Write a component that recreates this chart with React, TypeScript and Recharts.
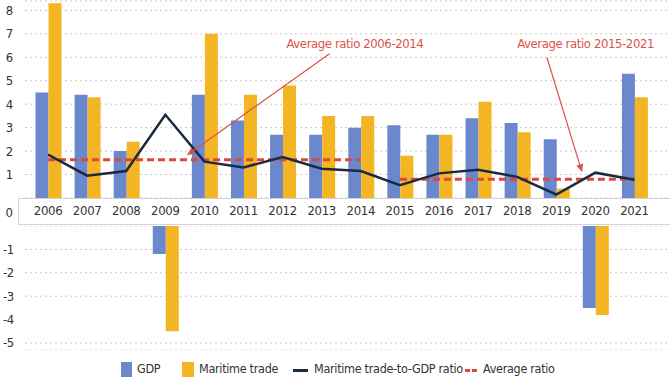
import { ComposedChart, Bar, Line, XAxis, YAxis, CartesianGrid, ReferenceLine, ReferenceDot } from "recharts";

const YEARS = ["2006", "2007", "2008", "2009", "2010", "2011", "2012", "2013", "2014", "2015", "2016", "2017", "2018", "2019", "2020", "2021"];
const GDP = [4.5, 4.4, 2.0, -1.2, 4.4, 3.3, 2.7, 2.7, 3.0, 3.1, 2.7, 3.4, 3.2, 2.5, -3.5, 5.3];
const MARITIME = [8.3, 4.3, 2.4, -4.5, 7.0, 4.4, 4.8, 3.5, 3.5, 1.8, 2.7, 4.1, 2.8, 0.4, -3.8, 4.3];
const RATIO = [1.85, 0.95, 1.15, 3.55, 1.55, 1.3, 1.75, 1.25, 1.15, 0.55, 1.05, 1.2, 0.9, 0.15, 1.08, 0.78];
const AVG_2006_2014 = 1.63;
const AVG_2015_2021 = 0.8;
const POS_TICKS = [1, 2, 3, 4, 5, 6, 7, 8];
const NEG_TICKS = [-1, -2, -3, -4, -5];

const FONT = '"DejaVu Sans Condensed", "Liberation Sans Narrow", sans-serif';
const BLUE = "#6b88cc";
const YELLOW = "#f4b524";
const NAVY = "#1b2a41";
const RED = "#e0463a";
const NOTE = "#d9534b";
const TEXT = "#333";

const rows = YEARS.map((year, i) => ({
  year,
  idx: i,
  gdpUp: GDP[i] > 0 ? GDP[i] : null,
  seaUp: MARITIME[i] > 0 ? MARITIME[i] : null,
  gdpDown: GDP[i] < 0 ? GDP[i] : null,
  seaDown: MARITIME[i] < 0 ? MARITIME[i] : null,
  ratio: RATIO[i],
  avgA: +year <= 2014 ? AVG_2006_2014 : null,
  avgB: +year >= 2015 ? AVG_2015_2021 : null,
}));

const PAD = { left: 3.5, right: 16 };

// thin red arrow with head at the second point
function Arrow(props: any) {
  const { x1, y1, x2, y2 } = props;
  const a = Math.atan2(y2 - y1, x2 - x1);
  const L = 8, W = 3.5;
  const bx = x2 - L * Math.cos(a), by = y2 - L * Math.sin(a);
  const p1 = `${bx + W * Math.sin(a)},${by - W * Math.cos(a)}`;
  const p2 = `${bx - W * Math.sin(a)},${by + W * Math.cos(a)}`;
  return (
    <g>
      <line x1={x1} y1={y1} x2={bx} y2={by} stroke={NOTE} strokeWidth={1.2} />
      <polygon points={`${x2},${y2} ${p1} ${p2}`} fill={NOTE} />
    </g>
  );
}

const tickStyle = { fontSize: 13, fill: TEXT, fontFamily: FONT, letterSpacing: -0.3 };
const noteLabel = { position: "center" as const, fill: NOTE, fontSize: 13, fontFamily: FONT, letterSpacing: -0.4 };

export default function App() {
  return (
    <div style={{ position: "absolute", left: 0, top: 0, width: 670, height: 380, background: "#fff", fontFamily: FONT }}>
      <div style={{ position: "absolute", left: 18, top: 198, width: 660, height: 27, border: "1px solid #d4d4d4", boxSizing: "border-box" }} />

      <div style={{ position: "absolute", left: 0, top: 0 }}>
        <ComposedChart width={670} height={227} data={rows} margin={{ top: 1, right: 0, bottom: 0, left: 0 }} barGap={0}>
          <CartesianGrid vertical={false} stroke="#c8c8c8" strokeDasharray="2 3" />
          <XAxis dataKey="year" height={29} padding={PAD} axisLine={false} tickLine={false} tick={tickStyle} interval={0}
            label={{ value: "0", position: "left", offset: 12, fontSize: 13, fill: TEXT, fontFamily: FONT }} />
          <XAxis xAxisId="num" dataKey="idx" type="number" domain={[-0.5, 15.5]} padding={PAD} hide allowDataOverflow />
          <YAxis width={25} domain={[0, 8.4]} ticks={POS_TICKS} axisLine={false} tickLine={false} tickSize={0} tickMargin={12} tick={tickStyle} allowDataOverflow />
          <Bar dataKey="gdpUp" fill={BLUE} barSize={13} isAnimationActive={false} />
          <Bar dataKey="seaUp" fill={YELLOW} barSize={13} isAnimationActive={false} />
          <Line dataKey="avgA" stroke={RED} strokeWidth={3} strokeDasharray="7 4" dot={false} isAnimationActive={false} />
          <Line dataKey="avgB" stroke={RED} strokeWidth={3} strokeDasharray="7 4" dot={false} isAnimationActive={false} />
          <Line dataKey="ratio" stroke={NAVY} strokeWidth={2.5} dot={false} isAnimationActive={false} />
          <ReferenceLine xAxisId="num" segment={[{ x: 7.2, y: 6.15 }, { x: 3.55, y: 1.82 }]} shape={Arrow} />
          <ReferenceLine xAxisId="num" segment={[{ x: 12.76, y: 6.0 }, { x: 13.66, y: 1.1 }]} shape={Arrow} />
          <ReferenceDot xAxisId="num" x={7.85} y={6.6} r={0} fill="none" stroke="none" label={{ value: "Average ratio 2006-2014", ...noteLabel }} />
          <ReferenceDot xAxisId="num" x={13.75} y={6.6} r={0} fill="none" stroke="none" label={{ value: "Average ratio 2015-2021", ...noteLabel }} />
        </ComposedChart>
      </div>

      <div style={{ position: "absolute", left: 0, top: 226 }}>
        <ComposedChart width={670} height={124} data={rows} margin={{ top: 0, right: 0, bottom: 0, left: 0 }} barGap={0}>
          <CartesianGrid vertical={false} stroke="#c8c8c8" strokeDasharray="2 3" />
          <XAxis dataKey="year" padding={PAD} hide />
          <YAxis width={25} domain={[-5.3, 0]} ticks={NEG_TICKS} axisLine={false} tickLine={false} tickSize={0} tickMargin={11} tick={tickStyle} allowDataOverflow />
          <Bar dataKey="gdpDown" fill={BLUE} barSize={13} isAnimationActive={false} />
          <Bar dataKey="seaDown" fill={YELLOW} barSize={13} isAnimationActive={false} />
        </ComposedChart>
      </div>

      <div style={{ position: "absolute", left: 0, top: 361, width: 670, height: 17, fontSize: 12.5, letterSpacing: -0.3, color: TEXT, whiteSpace: "nowrap" }}>
        <span style={{ position: "absolute", left: 121, top: 1, width: 11, height: 15, background: BLUE }} />
        <span style={{ position: "absolute", left: 137, top: 0 }}>GDP</span>
        <span style={{ position: "absolute", left: 182, top: 1, width: 12, height: 15, background: YELLOW }} />
        <span style={{ position: "absolute", left: 199, top: 0 }}>Maritime trade</span>
        <span style={{ position: "absolute", left: 293, top: 8, width: 15, height: 3, background: NAVY }} />
        <span style={{ position: "absolute", left: 314, top: 0 }}>Maritime trade-to-GDP ratio</span>
        <span style={{ position: "absolute", left: 465, top: 8, width: 5, height: 3, background: RED }} />
        <span style={{ position: "absolute", left: 472, top: 8, width: 5, height: 3, background: RED }} />
        <span style={{ position: "absolute", left: 483, top: 0 }}>Average ratio</span>
      </div>
    </div>
  );
}
